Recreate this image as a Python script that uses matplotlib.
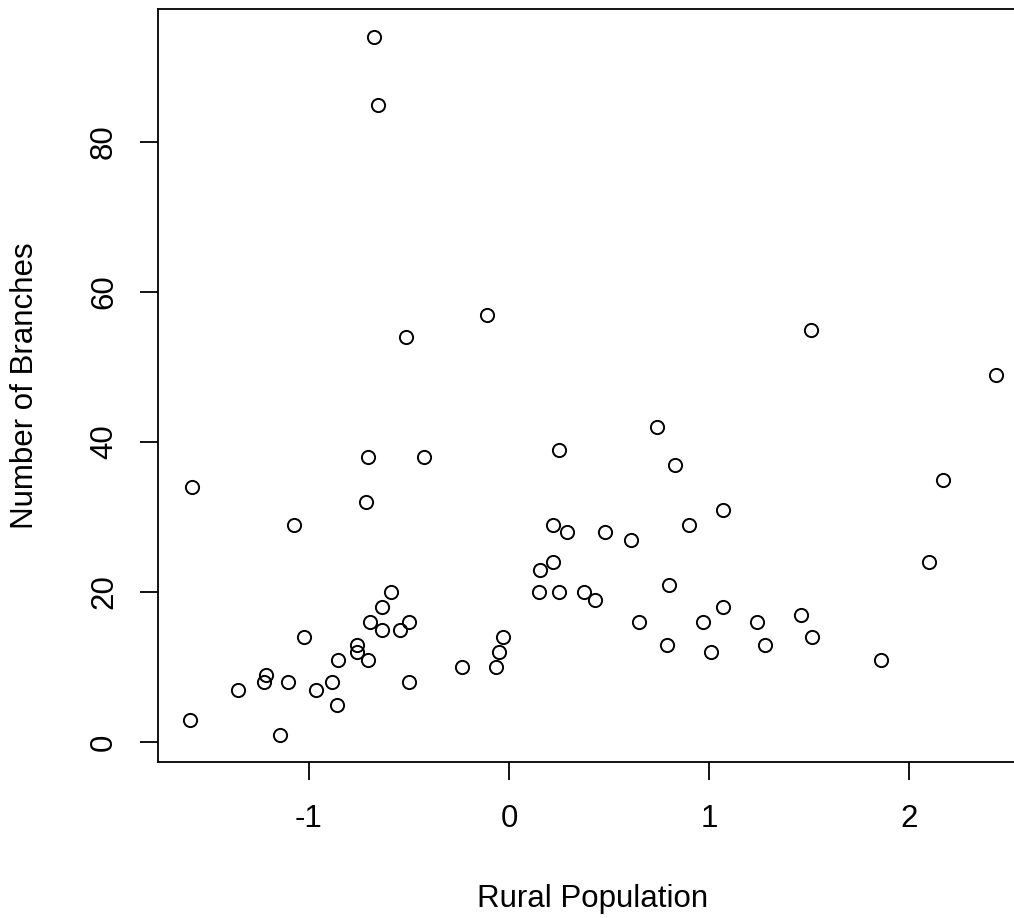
import matplotlib
matplotlib.use("Agg")
import matplotlib.pyplot as plt

# values
rural_pop = [-1.595, -1.585, -0.673, -0.653, -0.112, -0.513, -0.703, -0.423,
             -0.715, -1.075, -0.592, -0.633, -0.695, -0.633, -0.545, -0.500,
             -1.025, -0.762, -0.762, -0.703, -0.853, -1.215, -1.225, -1.103,
             -1.357, -0.965, -0.885, -0.862, -1.143, -0.502, -0.233, -0.063,
             -0.052, -0.032, 0.250, 0.740, 0.830, 1.070, 0.900, 0.218,
             0.288, 0.480, 0.608, 0.218, 0.157, 0.148, 0.250, 0.377,
             0.428, 0.800, 1.070, 0.648, 0.970, 1.240, 0.788, 1.010,
             1.280, 1.512, 2.433, 2.170, 2.100, 1.460, 1.513, 1.860]
branches = [3, 34, 94, 85, 57, 54, 38, 38,
            32, 29, 20, 18, 16, 15, 15, 16,
            14, 13, 12, 11, 11, 9, 8, 8,
            7, 7, 8, 5, 1, 8, 10, 10,
            12, 14, 39, 42, 37, 31, 29, 29,
            28, 28, 27, 24, 23, 20, 20, 20,
            19, 21, 18, 16, 16, 16, 13, 12,
            13, 55, 49, 35, 24, 17, 14, 11]

x_ticks = [-1, 0, 1, 2]
y_ticks = [0, 20, 40, 60, 80]

plt.rcParams['font.family'] = ['Liberation Sans', 'DejaVu Sans']

W, H = 1014, 918
fig = plt.figure(figsize=(W / 100, H / 100), dpi=100)
# axes runs past the right edge (reference is cropped there)
left_px, right_px, top_px, bot_px = 157.8, 1027.8, 9.1, 762.4
ax = fig.add_axes([left_px / W, 1 - bot_px / H,
                   (right_px - left_px) / W, (bot_px - top_px) / H])

ax.plot(rural_pop, branches, 'o', mfc='none', mec='black', ms=9.5, mew=1.4)

ax.set_xlim(-1.756, 2.594)
ax.set_ylim(-2.72, 97.72)
ax.set_xticks(x_ticks)
ax.set_xticklabels([str(t) for t in x_ticks])
ax.set_yticks(y_ticks)
ax.set_yticklabels([str(t) for t in y_ticks], rotation=90, va='center')

fs = 22.5
ax.tick_params(direction='out', length=13, width=1.3, pad=17,
               labelsize=fs, colors='black')
ax.yaxis.set_tick_params(pad=15)
for s in ax.spines.values():
    s.set_linewidth(1.3)

ax.set_xlabel('Rural Population', fontsize=fs, va='center')
ax.xaxis.set_label_coords(0.5, -(899 - bot_px) / (bot_px - top_px))
ax.set_ylabel('Number of Branches', fontsize=fs, va='center')
ax.yaxis.set_label_coords(-(left_px - 25) / (right_px - left_px), 0.5)

fig.savefig('out.png', dpi=100)
